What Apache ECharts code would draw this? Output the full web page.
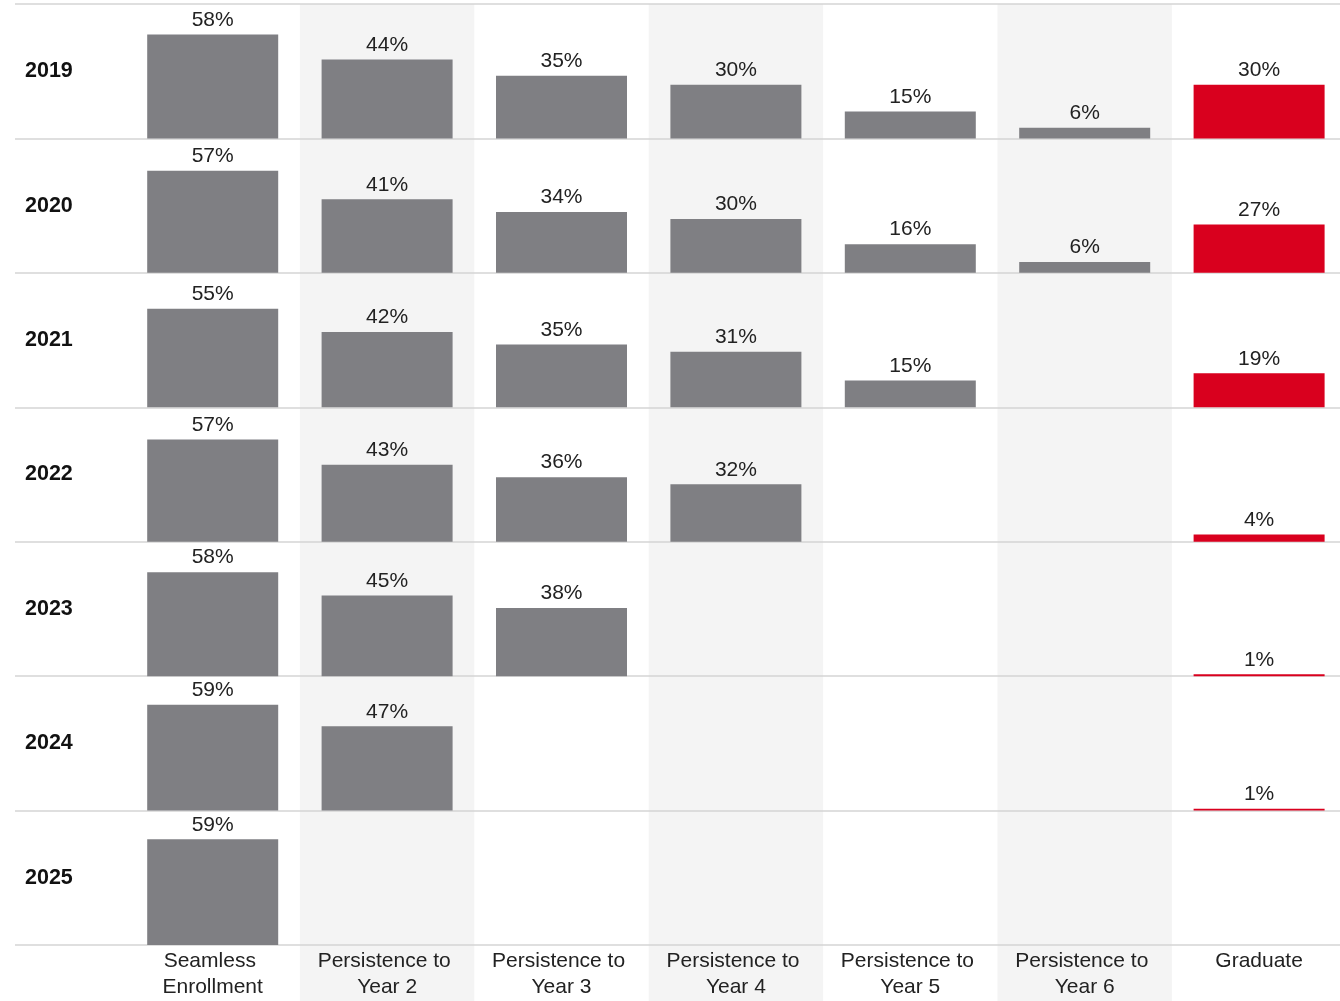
<!DOCTYPE html>
<html>
<head>
<meta charset="utf-8">
<script src="https://cdn.jsdelivr.net/npm/echarts@6/dist/echarts.min.js"></script>
<style>
html,body{margin:0;padding:0;background:#fff;}
#chart{width:1340px;height:1001px;}
</style>
</head>
<body>
<div id="chart"></div>
<script>
const years = ['2019', '2020', '2021', '2022', '2023', '2024', '2025'];
const stages = ['Seamless Enrollment', 'Persistence to Year 2', 'Persistence to Year 3', 'Persistence to Year 4', 'Persistence to Year 5', 'Persistence to Year 6', 'Graduate'];
const v2019 = [58, 44, 35, 30, 15, 6, 30];
const v2020 = [57, 41, 34, 30, 16, 6, 27];
const v2021 = [55, 42, 35, 31, 15, null, 19];
const v2022 = [57, 43, 36, 32, null, null, 4];
const v2023 = [58, 45, 38, null, null, null, 1];
const v2024 = [59, 47, null, null, null, null, 1];
const v2025 = [59, null, null, null, null, null, null];
const rowValues = [v2019, v2020, v2021, v2022, v2023, v2024, v2025];

const FONT = 'Liberation Sans, Arial, sans-serif';
const TOP = 4, ROWH = 134.43, LEFT = 125.5, COLW = 174.4;
const GREY = '#7f7f83', RED = '#d9001e', LINE = '#d4d4d4', SHADE = '#f4f4f4';

const grids = [], xAxes = [], yAxes = [], series = [];

// background grid (column shading)
grids.push({left: LEFT, top: TOP, width: COLW * 7, height: 1001 - TOP, outerBoundsMode: 'none'});
xAxes.push({gridIndex: 0, type: 'category', data: stages, z: 0,
  axisLine: {show: false}, axisTick: {show: false}, axisLabel: {show: false},
  splitLine: {show: false},
  splitArea: {show: true, areaStyle: {color: ['rgba(255,255,255,0)', SHADE]}}});
yAxes.push({gridIndex: 0, type: 'value', show: false, min: 0, max: 1});

// row line + year label grid
grids.push({left: 15, top: TOP, width: 1340, height: ROWH * 7, outerBoundsMode: 'none'});
xAxes.push({gridIndex: 1, type: 'value', show: false, min: 0, max: 1});
yAxes.push({gridIndex: 1, type: 'category', data: years, inverse: true, z: 1,
  axisLine: {show: false}, axisTick: {show: false},
  axisLabel: {inside: true, margin: 10, align: 'left', fontFamily: FONT, fontSize: 21.5, fontWeight: 'bold', color: '#111'},
  splitLine: {show: true, lineStyle: {color: LINE, width: 1.5}}});

rowValues.forEach((vals, i) => {
  const gi = i + 2;
  const last = i === rowValues.length - 1;
  grids.push({left: LEFT, top: TOP + i * ROWH, width: COLW * 7, height: ROWH, outerBoundsMode: 'none'});
  xAxes.push({gridIndex: gi, type: 'category', data: stages,
    axisLine: {show: false}, axisTick: {show: false},
    axisLabel: last ? {show: true, margin: 3, fontFamily: FONT, fontSize: 21, lineHeight: 26, color: '#222',
      width: 168, overflow: 'break', interval: 0} : {show: false},
    splitLine: {show: false}});
  yAxes.push({gridIndex: gi, type: 'value', show: false, min: 0, max: 75});
  series.push({
    type: 'bar', xAxisIndex: gi, yAxisIndex: gi, z: 3,
    barWidth: 131,
    data: vals.map(v => v === null ? '-' : v),
    itemStyle: {color: p => p.dataIndex === stages.length - 1 ? RED : GREY},
    label: {show: true, position: 'top', distance: 4, fontFamily: FONT, fontSize: 21, color: '#222',
      formatter: p => (typeof p.value === 'number') ? p.value + '%' : ''},
    silent: true, animation: false
  });
});

const chart = echarts.init(document.getElementById('chart'), null, {renderer: 'canvas'});
chart.setOption({
  animation: false,
  backgroundColor: '#fff',
  grid: grids, xAxis: xAxes, yAxis: yAxes, series: series
});
</script>
</body>
</html>
